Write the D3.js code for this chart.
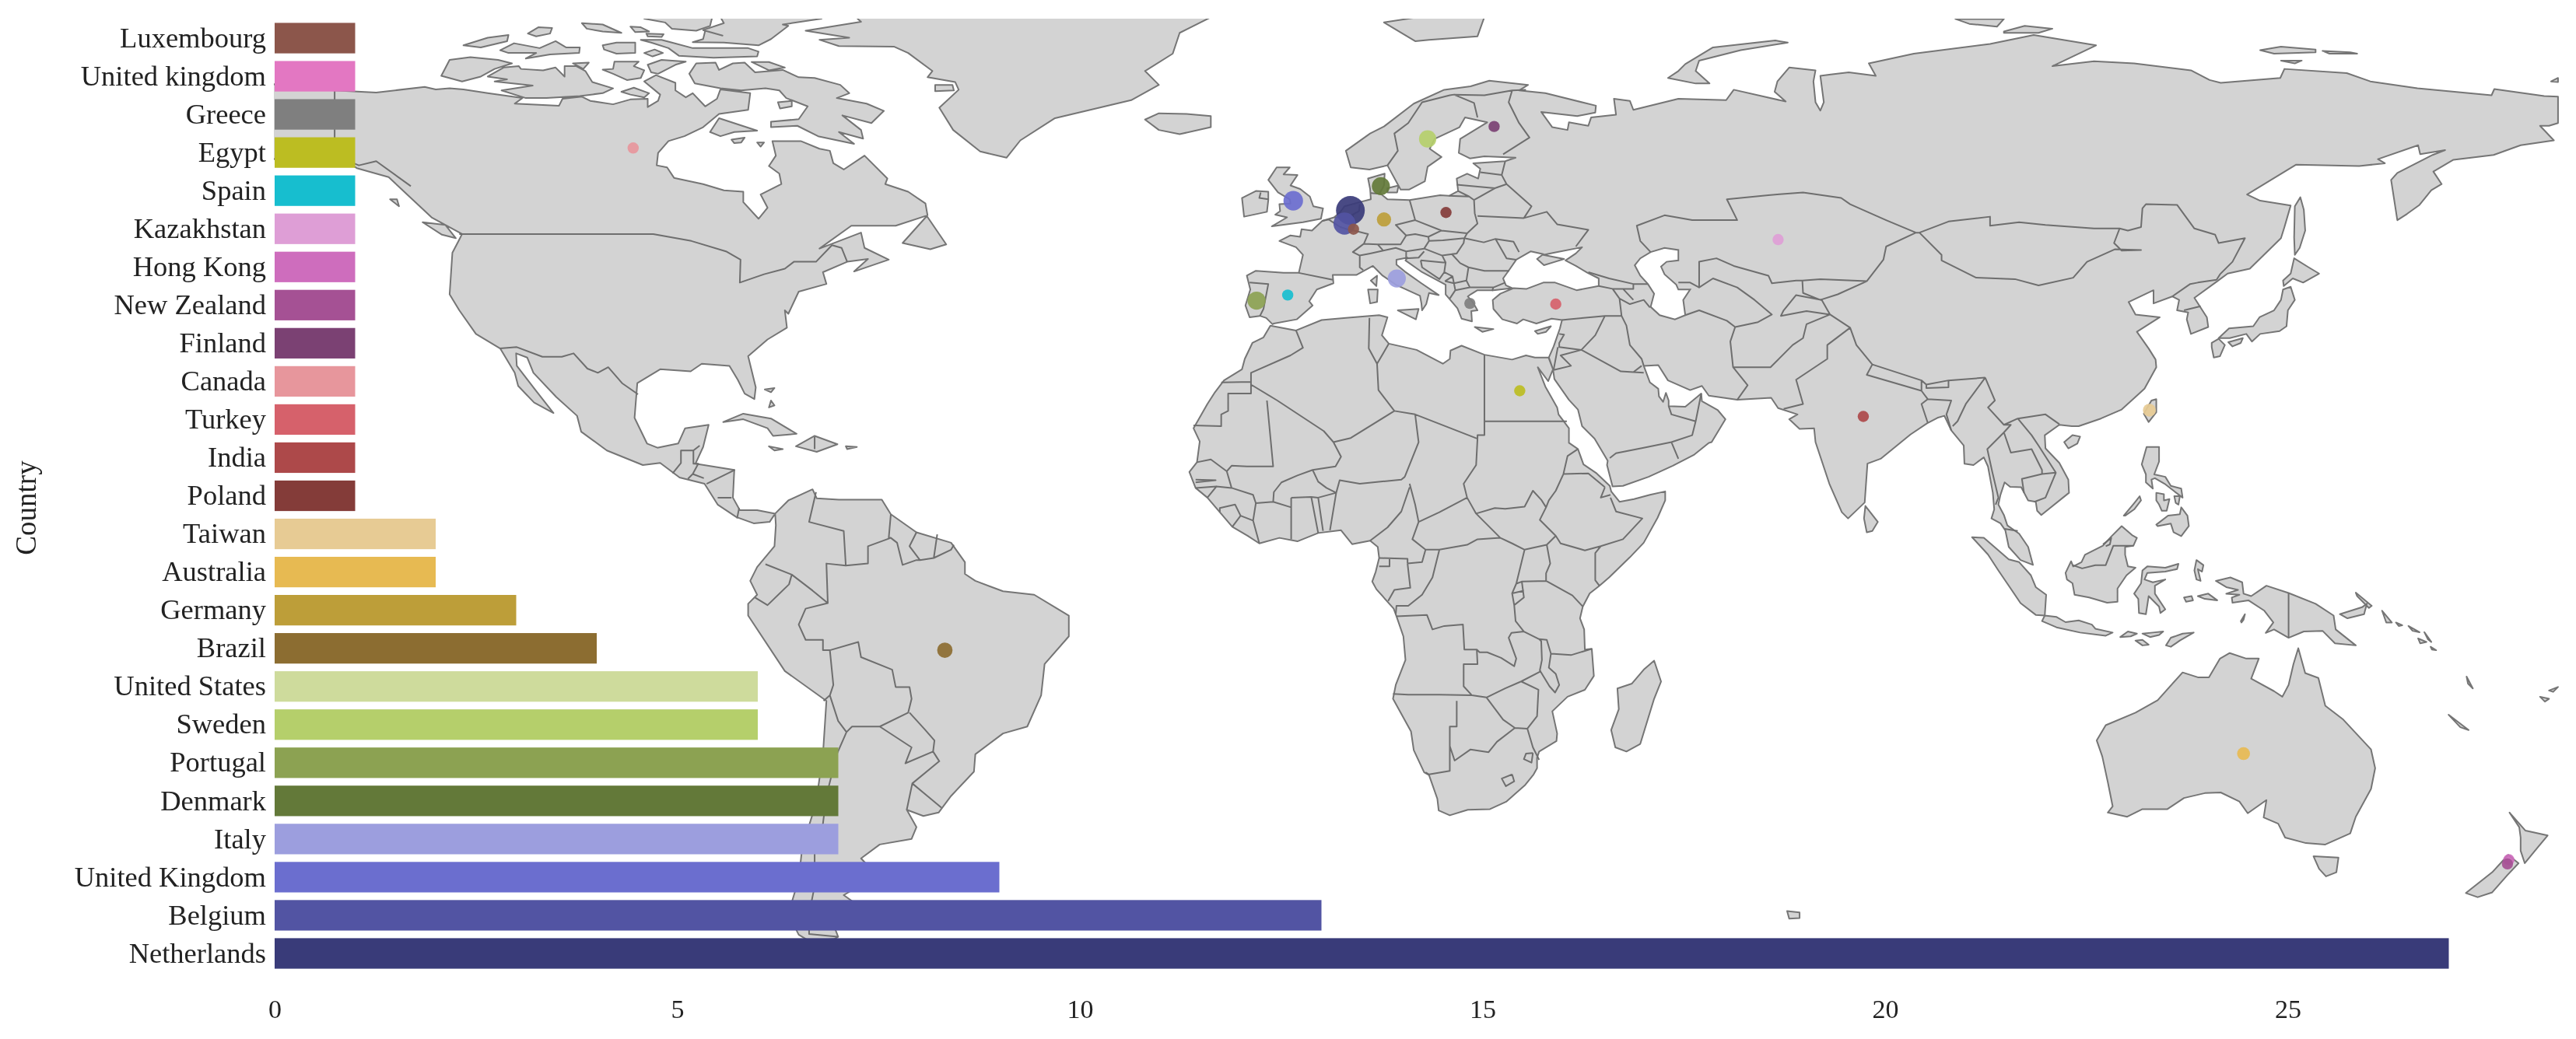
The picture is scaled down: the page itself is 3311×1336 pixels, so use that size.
<!DOCTYPE html>
<html>
<head>
<meta charset="utf-8">
<script src="https://cdn.jsdelivr.net/npm/d3@7"></script>
<style>
  body { margin: 0; background: #fff; }
  svg { display: block; filter: blur(0.5px); }
</style>
</head>
<body>
<div id="vis"></div>
<script>
// bar chart values, top to bottom
const countries = ['Luxembourg','United kingdom','Greece','Egypt','Spain','Kazakhstan','Hong Kong','New Zealand','Finland','Canada','Turkey','India','Poland','Taiwan','Australia','Germany','Brazil','United States','Sweden','Portugal','Denmark','Italy','United Kingdom','Belgium','Netherlands'];
const counts = [1,1,1,1,1,1,1,1,1,1,1,1,1,2,2,3,4,6,6,7,7,7,9,13,27];
const colours = ['#8c564b','#e377c2','#7f7f7f','#bcbd22','#17becf','#de9ed6','#ce6dbd','#a55194','#7b4173','#e7969c','#d6616b','#ad494a','#843c39','#e7cb94','#e7ba52','#bd9e39','#8c6d31','#cedb9c','#b5cf6b','#8ca252','#637939','#9c9ede','#6b6ecf','#5254a3','#393b79'];
const xTicks = [0,5,10,15,20,25];

// where each country's bubble sits, [lon, lat]. none shows for the US or the lower case UK
const bubbleLon = [6.1,null,22.9,30.1,-3.4,67.4,172.9,172.7,26.4,-97.9,35.3,79.7,19.45,121,134.6,10.5,-52.9,null,16.8,-7.9,10.05,12.35,-2.6,4.8,5.65];
const bubbleLat = [49.7,null,39,26.4,40.2,48.2,-41.2,-41.8,64.5,61.4,38.9,22.7,52.1,23.6,-25.9,51.1,-11,null,62.7,39.4,55.9,42.6,53.8,50.5,52.4];

// base map, rough outlines in lon/lat
const africa = [[-5.9,35.8],[-2.2,35.1],[1.5,36.6],[5,36.9],[9.8,37.3],[11,37],[10.2,34.4],[11.2,33.2],[15.2,32.3],[19,30.3],[20,31],[20.1,32.2],[21.7,32.9],[25,31.6],[29,30.9],[31,31.5],[32.3,31.2],[34.25,31.2],[34.9,29.5],[34.2,27.8],[32.7,29.8],[33.8,27],[35.5,24],[35.7,23],[37.2,21],[37.2,18.9],[38.5,18],[39.3,15.8],[41.2,14.5],[43.1,12.7],[43.3,11.9],[44.5,10.4],[46.6,10.8],[48.9,11.4],[51.1,11.9],[51.1,10.6],[50,8.1],[48,4.5],[46,2.4],[43,-0.5],[41.6,-1.7],[40.2,-2.8],[39.2,-4.7],[38.8,-6.4],[39.4,-8],[39.5,-10.9],[40.5,-10.8],[40.8,-14.7],[39.5,-16.7],[37,-17.7],[34.8,-19.8],[35.5,-23],[35.4,-24.1],[32.9,-25.6],[32.6,-26.5],[32.6,-28],[32.1,-28.9],[30.9,-30.4],[28.2,-32.8],[25.8,-33.9],[22.6,-34],[20,-34.8],[18.4,-34.1],[18.2,-32.4],[17,-29],[16.3,-28.6],[14.8,-25.4],[14.4,-22.7],[11.8,-18],[12.2,-16],[13.6,-12.4],[13.3,-9],[12.3,-6.1],[11.9,-5],[9.4,-2.2],[8.8,-1.1],[9.3,0.3],[9.8,2.3],[9.6,3.9],[8.5,4.8],[5.9,4.3],[4.3,6.3],[1,5.9],[-2,4.7],[-4.6,5.2],[-7.5,4.4],[-9.2,5.5],[-11.4,6.8],[-13.2,8.9],[-15,11],[-16.7,12.4],[-17.6,14.7],[-16.5,16.1],[-16.1,19.1],[-17,21],[-15,24.5],[-13.9,26.2],[-12.6,27.9],[-10,29.5],[-9.6,31],[-8.5,33.3],[-6.9,34.1],[-5.9,35.8]];
const eurasia = [[-5.6,36],[-6.5,36.9],[-7.4,37.2],[-8.9,37],[-9.5,38.7],[-8.8,41],[-9.3,43],[-8,43.7],[-4,43.4],[-1.8,43.4],[-1.2,46],[-2.2,47.1],[-4.6,48],[-3,48.8],[-1.6,48.6],[-1.4,49.7],[0.1,49.5],[1.6,50.9],[3.3,51.4],[4.2,52.2],[4.8,53],[7,53.6],[8.6,54],[8.5,55.5],[8.2,57],[10.6,57.7],[10.5,56],[9.9,54.9],[11,54],[14.2,53.9],[18.6,54.6],[19.9,54.5],[21.2,55.2],[21,57],[22.5,57.7],[24.1,57],[24.4,58.4],[23.4,59.2],[28,59.5],[29.5,60],[25,60.2],[22.9,59.9],[21.3,60.7],[21.5,62.7],[25.4,65.1],[22.2,65.8],[21.4,64.4],[17.8,62.7],[17.1,61.3],[18.8,60.1],[16.8,58.7],[16.4,56.6],[14.1,55.4],[12.9,55.4],[11,58.9],[8.4,58.3],[5.7,58.6],[5,61],[8.5,63.5],[10.5,64.5],[14.8,67.8],[19.2,69.8],[23,70.3],[25.7,71.1],[31.3,70.5],[30,69.7],[33.8,69.3],[41.1,67.5],[41,66.5],[38.4,66],[33.2,66.6],[34.8,64.4],[37,64],[37.2,65.1],[40,64.6],[40.4,65.8],[44,66.2],[43.7,68.5],[46,68.2],[46.5,66.9],[53,68.5],[59.9,68.3],[61,69.8],[68.5,68.1],[66.9,69.5],[67.3,71],[69,73],[72.8,72.6],[72.5,71],[72.8,68],[73.5,66.8],[74,68],[73.5,71.8],[75,72],[77.6,72.3],[81.5,71.8],[80.5,73.6],[87,75],[98,76.4],[104.3,77.7],[113.3,76.2],[107,73.2],[113,73.9],[118.8,73.6],[127,72.6],[129.7,71.2],[131.3,70.8],[139.9,71.5],[140.5,72.8],[149.5,72.2],[152.9,71],[159.7,70],[170.4,69],[170.8,69.9],[178,68.9],[180,68.8],[180,65],[178.7,64.6],[177.4,64.6],[179.4,62.5],[174.6,61.8],[170.7,60.4],[164.9,59.7],[162,58],[163.2,56.2],[161.7,55.3],[160,53.2],[158.2,51.9],[156.8,51],[155.9,56.8],[156.8,57.8],[161.9,60.4],[163.7,61.1],[160.1,60.5],[159.8,61.8],[154,59.8],[155,59.2],[151.3,58.8],[142.2,59],[135.1,54.7],[137,53.8],[141.4,53.1],[140.5,50],[140,48.4],[135.5,44],[132.3,43.3],[130.8,42.2],[127.5,39.8],[129.3,37],[129.5,35.6],[127,34.6],[126.4,36.7],[126.6,37.7],[125,38],[125.3,39.5],[124.3,40],[121.6,39],[121.6,40.9],[118,39.2],[119,37.4],[122.5,37],[119.2,34.9],[120.9,32.5],[121.9,30.9],[122,29.8],[120.3,26.7],[117,23.7],[114,22.4],[110.8,21.3],[109.8,21.3],[108,21.5],[105.9,20],[106,18.1],[108,16],[109.3,13.6],[109.4,11.7],[105.4,8.5],[104.8,9.1],[104.6,10.4],[103.5,10.6],[102.5,12.5],[100.9,12.55],[100.1,13.2],[99.5,11.4],[99.2,10],[100,8.5],[100.5,7],[102.2,5.8],[103.5,3.9],[104.2,1.3],[102.4,2],[100.7,3.9],[100.2,6.3],[99.5,7.3],[98.2,8],[98.6,9.3],[98.4,11.7],[97.7,15.5],[97.1,16.8],[95.6,15.7],[94.3,15.9],[94.2,18.5],[92.4,20.7],[91.4,22.8],[90.4,22.5],[88.9,21.7],[86.5,20.1],[82.2,16.6],[80.3,15.9],[79.9,10.3],[77.5,8],[76.6,8.9],[74.8,13],[72.8,19],[72.6,21],[70.5,20.9],[69,22.3],[70.2,23],[67.4,23.9],[66.4,25.4],[61.5,25.1],[57.4,25.7],[56.4,27.1],[54.7,26.5],[51.5,27.9],[50.1,30.1],[48,30],[48.9,27.6],[50.1,26.7],[50.2,25.6],[50.8,24.8],[51.2,26.1],[51.6,25],[51.6,24.2],[54,24.1],[56.3,26],[56.4,24.9],[58.7,23.6],[59.8,22.3],[57.8,19],[57.4,18.9],[55.3,17.2],[52.2,15.6],[48.7,14],[45,12.7],[43.5,12.6],[42.7,15.7],[42.8,16.3],[40.9,19.5],[39.1,21.3],[38.5,23.7],[37.2,25.1],[35.1,28.1],[34.9,29.5],[34.3,31.2],[35,32.8],[35.9,35.4],[36.2,36.6],[34.7,36.8],[32.5,36.1],[30.6,36.7],[29.7,36.1],[27.6,36.7],[26.3,38.2],[26.2,39.5],[27.3,40.4],[29.2,41.2],[31.1,41.1],[33.5,42],[35.2,42],[38.3,40.9],[41.5,41.5],[41.5,42.6],[39.9,43.4],[38.2,44.4],[36.7,45.2],[38.2,46.2],[39.1,47.1],[35,46.3],[33.5,46],[36.5,45.4],[35.2,45],[33.6,44.5],[32.6,45.4],[33.5,46.1],[31.7,46.5],[29.6,45.3],[28.7,44],[27.7,42.6],[28.1,41.6],[29,41.2],[26.3,40.9],[24,40.9],[23,40.3],[22.6,40],[23.3,39.2],[24,38],[23.1,37.9],[23.2,36.4],[21.7,36.8],[21.1,38.3],[19.4,40.3],[19.4,41.7],[16,43.5],[13.6,45.2],[13.9,45.6],[12.3,45.3],[12.3,44.6],[13.5,43.6],[15.9,41.9],[18.4,40.2],[17,40.5],[16.6,38.9],[16,38],[15.9,39],[15.7,40.1],[12.2,41.7],[10.3,43],[8.9,44.4],[6.5,43.1],[3.1,43.1],[3.2,41.9],[0.8,41],[-0.3,39.3],[0.2,38.7],[-2.1,36.7],[-5.4,36.1]];
const northAmerica = [[-168,65.6],[-162,66.5],[-166,68.3],[-156.6,71.3],[-148,70.4],[-141,69.7],[-135,69.4],[-128,70.2],[-126.4,69.85],[-124.4,70],[-122.4,69.85],[-118.9,69.3],[-113.9,68.6],[-115,67.8],[-108.6,67.5],[-108.1,68.5],[-105.3,68.8],[-104.1,68.2],[-100.8,67.7],[-98.3,68.4],[-95.8,68.5],[-95.8,67.3],[-94.3,68.2],[-94,69.1],[-96.3,71],[-94.6,71.9],[-91.8,70.8],[-91.8,69.7],[-90.3,68.7],[-89.3,69.3],[-87.5,67.4],[-85.8,68.5],[-85.3,69.85],[-81,69.3],[-81.3,66.9],[-85.5,66.3],[-87.8,64.4],[-90.5,63.1],[-92.8,62.4],[-94.3,60.7],[-94.5,58.9],[-93,58.6],[-92,57.1],[-87.8,56.2],[-84.8,55.3],[-82,55.1],[-82,53.6],[-79.8,51.2],[-78.5,52.8],[-79.5,54.7],[-76.5,56.2],[-76.8,57.7],[-78.3,58.8],[-77.3,60.3],[-77.8,62.4],[-73.7,62.4],[-71,61.3],[-69.5,61],[-69,59.2],[-67.5,58.3],[-64.5,60.3],[-61.2,57],[-61.5,56.2],[-58.2,55.1],[-55.7,53.4],[-55.4,51.7],[-60,50.2],[-66.4,50.2],[-71,46.9],[-65,49.2],[-64.5,47],[-61,45.3],[-66,43.6],[-64,45.4],[-67,45],[-70.5,43.5],[-70,41.8],[-74,40.7],[-75.5,37.5],[-76,38],[-75.7,35.5],[-78.5,33.8],[-81.3,31.4],[-80.2,26.9],[-80.4,25.2],[-81.8,26],[-82.8,28],[-84,30],[-88,30.3],[-89.6,29.2],[-94,29.5],[-97.3,27.5],[-97.7,22.5],[-95.9,18.8],[-94.4,18.2],[-91.4,18.8],[-90.4,21],[-87,21.5],[-87.8,18.3],[-88.9,15.9],[-83.3,15],[-83.5,11],[-82.5,9.2],[-80,9.2],[-77.4,8.7],[-78.2,7.5],[-80.5,7.3],[-83,8.2],[-85.7,10],[-87.6,13],[-91.2,13.9],[-94,16],[-96.5,15.7],[-101.7,17.8],[-105.4,20.5],[-106,22.8],[-109,25.5],[-112.3,29],[-113.2,31.2],[-114.8,31.8],[-114.7,30],[-112,26.5],[-109.4,23.2],[-112.2,24.7],[-114.5,27.1],[-115,29],[-117.1,32.5],[-120.6,34.6],[-123,38],[-124.4,40.3],[-124,46.3],[-123,48.2],[-122.6,49],[-127,51.4],[-130,54.2],[-133.2,57.2],[-137.8,58.5],[-140,59.9],[-146,60.8],[-152,59.2],[-151.7,60.7],[-154,58],[-160,55.5],[-164.5,54.6],[-158,58.6],[-162,59.9],[-165.5,62],[-161,64],[-168,65.6]];
const southAmerica = [[-77.4,8.7],[-75.5,10.6],[-72,12.2],[-71.4,10.9],[-68.2,10.7],[-62,10.7],[-60.7,8.6],[-57,6],[-52,4.5],[-50,1.7],[-50,0],[-48.5,-1],[-44.5,-2.5],[-40,-3],[-37,-4.8],[-35,-6],[-35,-9],[-38.5,-13],[-39,-17.5],[-41,-22],[-44.5,-23],[-48.5,-26],[-48.7,-28.5],[-52,-32],[-53.8,-34.4],[-56,-34.9],[-58.4,-34],[-57,-36.5],[-57.7,-38.2],[-62.3,-39],[-65,-41],[-63.5,-42.6],[-65.3,-45],[-67.5,-46.3],[-65.8,-47.5],[-69,-50.5],[-68.3,-52.3],[-71,-53.8],[-74,-52],[-75.5,-49],[-74,-44],[-73.5,-39.5],[-71.5,-33],[-70.5,-26],[-70,-18.3],[-76,-14],[-81.3,-6],[-81.3,-4.3],[-80,-3],[-81,-1],[-80,1],[-77.5,4],[-77.3,7],[-77.4,8.7]];
const australia = [[113.4,-24],[114.2,-26.3],[115,-30],[115.7,-33.5],[115,-34.4],[117.8,-35],[120,-33.9],[123.6,-33.9],[126,-32.3],[129,-31.6],[131.3,-31.5],[134,-32.8],[135.2,-34.5],[137.9,-32.6],[137.5,-35.1],[139.6,-36],[140.6,-38],[143.6,-38.8],[146.4,-39],[150,-37.4],[150.8,-35],[153,-31],[153.6,-28],[153,-25.3],[149,-21],[146.4,-19],[145.4,-15],[143.5,-14.3],[142.5,-10.7],[141.8,-13],[141.1,-16],[140.2,-17.7],[139,-16.9],[135.7,-15.1],[136.8,-12.2],[135,-12.2],[132.6,-11.4],[131.2,-12.2],[129.6,-14.9],[128,-14.9],[125.8,-14.2],[122.2,-18.2],[119,-20],[114.7,-21.8],[113.4,-24]];
const arcticIslands = [
  [[-122.4,76.2],[-118.9,77.3],[-115.9,77.7],[-116.1,76.8],[-119.9,75.9]],
  [[-113.1,77.9],[-111.6,78.8],[-109.6,78.7],[-109.9,77.9],[-111.9,77.5]],
  [[-117.1,75.5],[-115.1,76.5],[-111.4,75.8],[-109.1,76.8],[-107.6,75.9],[-105.6,75.9],[-105.7,75.1],[-109.9,74.9],[-113.4,74.3],[-111.9,75.1],[-115.9,75.1]],
  [[-105.3,79.4],[-102.3,79.2],[-99.6,78],[-102.3,78.2],[-104.6,78.6]],
  [[-98.3,78.9],[-96.8,78.8],[-95.6,78.2],[-97.6,78.1]],
  [[-96,77.9],[-93.5,77.8],[-93.8,77.4],[-95.8,77.5]],
  [[-102.3,76.2],[-100.3,76.6],[-97.6,76.6],[-97.6,75.1],[-100.3,75],[-102.1,75.6]],
  [[-96.3,75.1],[-94.8,75.6],[-93.6,75.1],[-95.1,74.6]],
  [[-96.8,77],[-93.8,77],[-92.3,76.6],[-89.3,75.8],[-81.3,75.8],[-79.8,75.3],[-80,74.6],[-86.3,74.4],[-91.3,74.7],[-92.8,75.8],[-95.3,76.6]],
  [[-96.3,81],[-96.3,80.05],[-93.3,79.5],[-92.3,78.6],[-88.8,78.3],[-86.8,79],[-86.3,81]],
  [[-70.7,82],[-70.7,80.05],[-76.3,79.2],[-75.5,79],[-78,77.1],[-79.8,76.2],[-84.8,76.6],[-89.3,76.65],[-87.8,77.1],[-87.5,78.3],[-85,77.6],[-87.8,78.4],[-84.8,79.4],[-86.3,82]],
  [[-118.9,71.7],[-116.6,73],[-114.4,73.2],[-114.1,72.8],[-110.9,72.6],[-109.1,73],[-107.8,71.7],[-107.8,73.2],[-106.1,73.2],[-104.8,72.5],[-103.8,70.9],[-100.8,70],[-102.3,69.3],[-105.6,68.9],[-110.4,68.6],[-113.4,68.6],[-116.9,69.7],[-112.4,70.4],[-117.9,71],[-116.1,71.3]],
  [[-125.6,71.8],[-124.4,74.1],[-121.4,74.5],[-117.4,74.1],[-115.4,73.6],[-117.9,72.8],[-119.9,71.7],[-122.6,71]],
  [[-102.3,72.7],[-100.8,72.8],[-100.6,73.85],[-97.1,73.85],[-97.8,73.2],[-96.3,72.6],[-96.8,71.5],[-98.8,71.2],[-100.8,72.1]],
  [[-95.8,73.4],[-93.8,74.1],[-90.3,73.85],[-91.8,73.4],[-94.3,72.1],[-95.3,72.3]],
  [[-106.6,73.6],[-104.3,73.7],[-105.1,72.8]],
  [[-99.6,69.5],[-97.8,70.1],[-95.6,69.3],[-96.3,68.7],[-98.3,69.1]],
  [[-89.8,72.1],[-88.8,73.6],[-86,73.7],[-85.5,72.65],[-83.5,73.6],[-81.8,73.7],[-80.3,72.3],[-76.3,72.65],[-74,71.6],[-71.7,71.5],[-68,70.5],[-66.7,69.3],[-68.5,68.6],[-64.2,67.8],[-61.7,66.75],[-63.5,65],[-67.7,66.1],[-65,64],[-64.7,62.75],[-68.2,63.7],[-66,62],[-71.2,63.1],[-74.2,64.6],[-78,64.4],[-78,65.2],[-74,65.55],[-72.7,67.4],[-75.8,68.6],[-76.8,69.7],[-78.8,70],[-82.3,69.7],[-85.3,70],[-89,70.7]],
  [[-80.8,73.8],[-78.3,73.8],[-76,73],[-78.3,72.6]],
  [[-77,68],[-75,68.2],[-75,67.4],[-76.7,67.1]],
  [[-85.5,65.7],[-80,63.9],[-83.3,63.7],[-85.3,63.1],[-86.8,63.7]],
  [[-83.7,62.6],[-81.8,62.9],[-82.3,62.2],[-83.3,62.1]],
  [[-80,62.2],[-79,62.2],[-79.5,61.6]],
  [[-59,47.7],[-55,46.8],[-52.7,47.5],[-55.5,51.6]],
  [[-128.3,50.7],[-125,50.3],[-123.5,48.4],[-125.5,48.9]],
  [[-133,54],[-131.7,53],[-132,54]],
  [[-43,83],[-65.5,83],[-65.5,80.05],[-65,79.6],[-73,78.3],[-66.7,77.3],[-71,77],[-68.2,76.1],[-60.2,76],[-58.2,75.1],[-54.7,72.5],[-55.4,71.6],[-51.4,70.9],[-50.9,69.8],[-53.7,67.2],[-51.7,64],[-47.8,60.9],[-44,60],[-42,62.5],[-37,65.7],[-26,68.3],[-22,70.5],[-24,72.5],[-20,75],[-19,78],[-12,81.5],[-30,83.5]],
  [[-54.3,70.5],[-51.8,70.5],[-51.6,69.7],[-54.3,69.6]]
];
const asianIslands = [
  [[95.4,5.3],[97.1,5.2],[100.7,2.1],[102.2,1.7],[103.9,-0.2],[104.6,-1.9],[106.1,-3],[105.9,-6],[104.6,-5.9],[102.4,-4.2],[100.5,-1.4],[99.2,0.5],[97.7,2.8]],
  [[105.5,-6.8],[105.9,-6],[107.6,-6.2],[108.9,-6.95],[110.8,-6.7],[112.7,-7.3],[113.2,-7.9],[115.7,-8.45],[114.7,-8.9],[111,-8.45],[107.6,-7.7]],
  [[116.8,-9.1],[117.9,-8.3],[119.2,-8.6],[118.3,-9]],
  [[120,-8.6],[121.5,-8.45],[123,-8.3],[122.4,-8.8],[121.1,-9.1]],
  [[119,-9.6],[120,-9.5],[120.9,-10.2],[120,-10.3]],
  [[123.4,-10.3],[124.1,-9.2],[125.8,-8.6],[127.4,-8.45],[125.4,-9.6],[124.1,-10.5]],
  [[108.9,0.15],[109.7,1.83],[110,1.08],[111.2,1.7],[111.7,2.76],[114.3,4.07],[115.5,5.4],[117,6.9],[118.5,5.6],[119.2,5.2],[118.7,4.07],[117.5,3.9],[117.5,2.76],[117.9,1.1],[119,0.9],[117.7,-0.2],[116.4,-2.1],[116.4,-4],[114.9,-4.15],[112.3,-3.4],[110.2,-3],[109.9,-1.35],[109.1,-0.8]],
  [[120,0.5],[120.7,1.08],[123.3,0.9],[125.2,1.45],[125,0.7],[123.3,0.33],[120.7,0.15],[120.3,-0.8],[121.5,-1.2],[123.3,-0.8],[121.8,-1.7],[121.8,-2.84],[123.3,-5.1],[122.6,-5.64],[122.4,-4.7],[120.9,-3.2],[120.5,-5.8],[119.5,-5.64],[119.4,-3.6],[118.8,-2.84],[119.8,-1.35]],
  [[127.5,0.5],[127.8,2],[128.8,1.27],[128.6,0.33],[128,0.7],[128.4,-1],[127.8,-0.8]],
  [[126,-3.4],[127.1,-3.2],[127.3,-3.8],[126.3,-4]],
  [[128,-3.2],[129.5,-2.84],[130.8,-3.8],[129,-3.6]],
  [[130.6,-1],[132.7,-0.5],[134.4,-1.2],[134.6,-2.85],[135.7,-3.2],[137.9,-1.7],[141.1,-2.75],[145,-4.3],[147.6,-6],[147.9,-8],[150.8,-10.3],[147.8,-10],[146,-8.2],[143.3,-8.3],[141.1,-9.2],[139,-8],[137.8,-8.5],[138.9,-7],[137.6,-5.3],[135.3,-3.8],[133,-4.15],[132.9,-3.4],[134,-3],[132.1,-2.85],[133.8,-2.3],[132.1,-1.9]],
  [[134.2,-6.8],[134.8,-5.8],[134.6,-6.6],[134.3,-7]],
  [[120.6,18.3],[122.4,18.3],[122.4,16.2],[121.7,14.35],[123.3,14],[124.1,12.7],[125.6,12.3],[125.8,11],[124.1,12.3],[123.2,13],[121.8,13.8],[121.3,13.6],[121.5,12.3],[120.5,13.2],[120.5,14.35],[119.9,15.8]],
  [[122,11.7],[123.1,11.5],[123.1,10.6],[123.9,10.8],[123.5,9.1],[122.8,9.1],[122.4,10],[122,10.6]],
  [[124.6,11.2],[125.4,11.2],[125.2,10],[124.8,10.25]],
  [[122,7.1],[123.7,8.4],[125.4,8.6],[125.6,9.6],[126.5,8.4],[126.7,6.9],[125.6,5.45],[124.5,6],[124.1,7.25],[122.2,6.9]],
  [[117.3,8.4],[118.8,10.2],[119.6,11.2],[119.8,10.6],[118.8,9.3],[117.5,8.4]],
  [[121.3,25],[122,25.2],[122,23.3],[120.9,21.9],[120.2,23.1]],
  [[108.7,19],[109.9,20],[111,19.8],[110.6,18.8],[109.3,18.1]],
  [[142.8,54.3],[143.3,52.5],[143.5,49.5],[142.7,47],[142,46],[141.9,48.5],[142,53]],
  [[140.4,41.5],[141.7,42.6],[143.2,42],[145.5,43.3],[144,44.2],[141.9,45.5],[141.4,43.3],[140.3,42.3]],
  [[141.4,41.4],[142,39.5],[141,38],[140.8,35.7],[139.8,35],[137,34.6],[135.8,33.5],[135,34.6],[132.6,34],[131,34],[132.5,35.4],[136,35.7],[136.9,37],[139,38],[140,39.5],[140.3,41]],
  [[132.4,33.4],[134.5,34],[134.2,33.3],[133,32.8]],
  [[130,33.3],[131,33.9],[131.9,33],[131.2,31.4],[130.3,31.2],[130,32.7]],
  [[80,9.8],[81.8,7.5],[81,6.2],[80.2,6],[79.8,8]],
  [[51.5,71.5],[55.5,70.7],[57.5,70.7],[55.5,72.5],[56,74],[62,75.5],[68.8,76.6],[67,76.9],[58,75.9],[54,73.5],[53,72.5]],
  [[93,80],[100,80],[99,78.9],[95,79.3]],
  [[100,78.2],[103,79],[107,78.6],[105,78],[100,78]],
  [[137,75.5],[140,76],[145,75.6],[145,75.2],[139,75]],
  [[146,75.4],[150,75.2],[151,75],[147,75]],
  [[140,74],[143,74],[142,73.6]],
  [[179,71],[180,71.5],[180,70.9]]
];
const otherIslands = [
  [[-24,65.5],[-22,64],[-19,63.4],[-14.5,64.4],[-14.5,66],[-18,66.3],[-22,66.4]],
  [[-5.7,50.1],[-1.2,50.7],[1.4,51.2],[1.7,52.7],[0.3,53],[-0.2,54.4],[-1.6,55.5],[-3,56],[-2,57.5],[-4,57.6],[-3.1,58.6],[-5,58.6],[-6.2,56.8],[-4.8,55],[-3.1,54],[-3,53.4],[-4.6,53.3],[-4.5,52.3],[-5.2,51.8],[-3.5,51.4]],
  [[-6.2,53.9],[-6.4,52.2],[-9.7,51.5],[-10,54.2],[-8,55.2],[-6.2,55.1]],
  [[11,55.6],[12.6,56],[12.4,55],[11,55]],
  [[10.5,79.5],[15,76.8],[17,77],[24,77.5],[25,80.3],[15,80.2]],
  [[148.5,-5.8],[151.7,-4.8],[152.4,-4.3],[152,-5.8],[149.6,-6.4]],
  [[150.8,-2.7],[153.1,-4.6],[152.7,-4.9],[151,-3.2]],
  [[154.6,-5.3],[156,-7],[155.2,-7]],
  [[156.6,-7],[157.5,-7.4],[157,-7.5]],
  [[158.4,-7.5],[160,-8.4],[159,-8.2]],
  [[160.7,-8.4],[161.7,-9.8],[161.2,-9.4]],
  [[159.8,-9.3],[161,-9.8],[160.1,-10]],
  [[161.6,-10.5],[162.4,-11],[161.8,-10.9]],
  [[166.8,-14.8],[167.7,-16.5],[167,-15.8]],
  [[164.2,-20.3],[167.1,-22.5],[165.9,-22.1]],
  [[177.4,-17.7],[178.7,-18],[178.1,-18.4]],
  [[178.7,-16.8],[180,-16.3],[179.3,-17]],
  [[144.7,-40.7],[148.3,-40.9],[148,-43],[146.5,-43.6],[145.5,-42.5]],
  [[172.8,-40.5],[174.3,-41.7],[172.7,-43.4],[170.5,-45.9],[168.4,-46.6],[166.7,-46],[170.5,-43]],
  [[173,-34.4],[175.3,-37],[178.5,-37.7],[177,-39.5],[175.2,-41.7],[174.6,-39.9],[174.6,-38],[174.4,-36.5]],
  [[-84.9,21.9],[-82,23.1],[-78,22.4],[-74.3,20.2],[-77.7,19.9],[-78.5,21],[-82,22.3]],
  [[-74.4,18.4],[-71.7,19.9],[-68.4,18.7],[-71.4,17.6]],
  [[-78.3,18.4],[-76.3,18],[-77.5,17.8]],
  [[-67.2,18.4],[-65.6,18.3],[-67,18]],
  [[-78.9,26.6],[-77.5,26.8],[-78,26.2]],
  [[-78,25],[-77.5,24.3],[-78.3,24]],
  [[12.5,38],[15.5,38.2],[15.1,36.7]],
  [[8.2,41],[9.6,41],[9.5,39.2],[8.5,39]],
  [[8.6,42.3],[9.5,43],[9.4,41.5]],
  [[23.6,35.6],[26.3,35.3],[24.7,34.9]],
  [[32.3,35],[34.6,35.7],[33.9,34.9],[32.7,34.6]],
  [[49.5,-12.5],[50.5,-15.5],[49.5,-18],[47.5,-24.5],[45.5,-25.6],[43.9,-25],[43.3,-22.5],[44.4,-19.5],[44.2,-16.5],[46.3,-15.8],[48,-13.8]],
  [[-68.6,-52.6],[-65,-55],[-71,-55],[-74,-53]],
  [[68.7,-48.6],[70.5,-48.8],[70.5,-49.6],[69,-49.7]]
];
const caspian = [[49,46.4],[51,47],[53,46.7],[53,45.2],[51.3,45],[50.5,44.3],[51,43.2],[52.7,41.7],[53,41],[54.7,41],[53.7,39.5],[54,37.3],[52.5,36.7],[50.3,37.3],[49,38.5],[49.5,40.4],[48.6,41.8],[47.5,43],[46.7,44.5],[47.5,45.5],[49,46.4]];

const africaBorders = [
  [[-2.2,35.1],[-1.2,32.6],[-3,31.5],[-8.7,29],[-8.7,27.3]],[[-13,27.6],[-8.7,27.7]],
  [[-8.7,27.3],[-8.7,26],[-12,26],[-12,23.5],[-13,23],[-13,21.3],[-17,21.4]],
  [[-8.7,27.3],[-4.9,25],[1.8,20.6],[3.2,19]],[[-6.4,25],[-5.5,15.5],[-9.3,15.5],[-11.5,15.6],[-12.2,14.8]],
  [[-16.5,16.1],[-14.5,16.5],[-12.2,14.8],[-11.5,12.4]],[[-16.7,13.6],[-13.8,13.5],[-16.7,13.2]],
  [[-16.7,12.4],[-13.7,12.6],[-15,11]],[[-13.7,12.6],[-11.5,12.4],[-8.4,11.4],[-8,10.2]],
  [[-13.2,8.9],[-13.2,9.5],[-11,10],[-10.2,8.4],[-11.4,6.8]],[[-10.2,8.4],[-8.4,7.7],[-7.5,4.4]],[[-8.4,7.7],[-8,10.2],[-5.5,10.4],[-2.9,9.6]],
  [[-2.9,11],[-2.9,5]],[[-2.9,11],[0,11.1],[1,5.9]],[[0,11.1],[1,11],[1.7,6.2]],[[1,11],[3.6,11.7],[2.7,6.3]],
  [[-5.5,10.4],[-5.4,11.8],[-4.3,13.2],[-2,14.2],[0.2,15],[3.5,15.5],[4.3,16.9],[3.2,19]],[[0.2,15],[1,13.3],[2.2,12.4],[3.6,11.7]],
  [[3.2,19],[5.7,19.6],[12,23.5],[9.7,26.5],[9.5,30.3],[8.3,32.5],[8.4,36.9]],[[9.5,30.3],[11.2,33.2]],
  [[12,23.5],[15,23],[24,19.5],[24,20],[25,20],[25,31.6]],[[25,22],[36.9,22]],
  [[15,23],[15.5,19],[13.5,14]],[[3.6,11.7],[4.1,13.5],[7,13],[13,13.6],[13.5,14]],[[14.2,13],[15,10],[15.5,7.5]],
  [[14.2,12.5],[13,9],[11,6.7],[8.5,4.8]],[[24,19.5],[23.8,15.7],[22,13],[22.5,11]],[[15.5,7.5],[18.5,8.9],[22.5,11],[23.8,8.7],[25,7.5],[27.3,5.2]],
  [[23.8,8.7],[26.5,9.5],[28,9.4],[30.8,9.7],[32,12],[33.2,10.7],[33.9,9.6]],[[33.9,9.6],[34.3,10.6],[35.3,12],[36.4,14.4],[37,17],[38.5,18]],
  [[36.4,14.4],[40,14.5],[42.4,12.5]],[[33.9,9.6],[33,7.8],[35.3,5.5],[34,4.2],[30.8,3.5],[29,4.4],[27.3,5.2]],
  [[43.2,11],[44,9],[47.8,8],[45,5],[41.8,4]],[[42.4,12.5],[41.8,11],[43.2,11.4]],[[35.3,5.5],[36,4.4],[39.5,3.4],[41.8,4],[41,3],[41,-0.9],[41.6,-1.7]],
  [[34,4.2],[34.5,1.5],[33.9,0.1],[33.9,-1],[37.7,-3.1],[39.2,-4.7]],[[30.8,3.5],[29.6,-1.4],[29,-2.8],[29.3,-4.5],[30.7,-3.4],[30.4,-1.1],[33.9,-1]],[[29.6,-1.4],[30.4,-1.1]],[[29,-2.8],[30.7,-2.4]],
  [[27.3,5.2],[24,5],[22.5,4.2],[18.5,3.5],[17.5,-0.5],[16,-3],[14,-4.6],[12.3,-4.6],[12.2,-5.8]],[[12.3,-6.1],[16.7,-5.9],[17.5,-8],[19.2,-7.5],[21.9,-7.3],[22.1,-10.9],[23.9,-10.9],[24.3,-11.3],[25.4,-11.3],[27.4,-12.1],[29.3,-13.3],[29.6,-12.2],[28.5,-9.2],[28.9,-8.5],[30.7,-8.3],[32.9,-9.4]],
  [[29.3,-4.5],[29.5,-6.8],[30.7,-8.3]],[[32.9,-9.4],[34,-9.5],[34.6,-11.5],[34.3,-13.5],[35.3,-14.4],[35.8,-16],[35.2,-17.1],[34.4,-16.2],[33,-13.9],[33.3,-12.4],[33.2,-9.7],[32.9,-9.4]],
  [[34.6,-11.5],[37.5,-11.7],[40.5,-10.8]],[[33.2,-14],[30.3,-15.5],[28,-16.5],[25.3,-17.8]],[[23.9,-10.9],[24,-13],[22,-13],[22,-16.2],[23.2,-17.5],[25.3,-17.8]],
  [[11.8,-17.3],[14,-17.4],[18.5,-17.4],[23.2,-17.5]],[[21,-18.3],[21,-22],[20,-22],[20,-28.4],[17,-28.9],[16.5,-28.6]],
  [[20,-24.8],[20.7,-26.9],[23,-25.3],[25.6,-25.7],[26.8,-24.2],[29.4,-22.2],[27.7,-21],[25.3,-17.8]],[[30.3,-15.5],[32.8,-16.7],[32.6,-20.5],[31.2,-22.3],[29.4,-22.2]],[[31.2,-22.3],[32,-25],[32.9,-26.8]],
  [[32,-25.8],[31,-25.9],[30.7,-26.7],[31.8,-27.2],[32,-25.8]],[[29,-28.9],[27.5,-29.5],[28.1,-30.6],[29.3,-29.9],[29,-28.9]],
  [[9.8,1.1],[11.3,1.1],[11.3,2.2]],[[13.9,1.5],[14.3,-2],[12,-2.3],[11.1,-3.9]],[[13.9,1.5],[16,1.7],[16.5,3.5],[18.5,3.5]],[[15.5,7.5],[14.6,5],[16.5,3.5]],[[9.8,2.3],[13.9,2.2],[13.9,1.5]]
];
const americaBorders = [
  [[-123,49],[-95,49],[-89.5,48],[-84.5,46.5],[-82.4,45.3],[-82.5,42],[-79,43.2],[-76,44],[-74.7,45],[-71.5,45],[-69.2,47.4],[-67.8,47],[-67,45]],
  [[-141,69.7],[-141,60.3],[-137.5,58.9],[-135,59.5],[-130,55.9]],
  [[-117.1,32.5],[-114.7,32.7],[-111,31.3],[-108.2,31.3],[-106.5,31.8],[-104.5,29.6],[-103,29],[-101.5,29.8],[-99.5,27.5],[-97.2,25.9]],
  [[-92.2,14.5],[-91,16],[-91,17.8],[-89.2,17.8],[-88.3,18.5]],[[-89.2,17.8],[-89.2,15.9],[-88.5,15.9],[-89.3,14.4]],[[-90,13.7],[-89.3,14.4],[-87.7,13.8]],[[-87.3,13],[-83.2,15]],[[-85.7,11],[-83.7,11]],[[-82.9,8],[-82.6,9.5]],
  [[-71.7,19.8],[-71.7,18]],
  [[-71.5,11.8],[-72.5,7.5],[-67.5,6.2],[-67.2,1.2],[-70,1.5],[-69.8,-4.2],[-72,-2.4],[-75,-0.1],[-78.8,1.4]],[[-60.7,8.6],[-61,5.2],[-60.7,5.2],[-64,4],[-64,1.5],[-67.2,1.2]],
  [[-60.7,5.2],[-59.8,4.5],[-59,1.3],[-57,2],[-56.5,2],[-54.5,2.3],[-52,3.5],[-51.6,4.2]],[[-57,6],[-58,4],[-56.5,2]],[[-54,5.7],[-54.5,2.3]],
  [[-75,-0.1],[-75.4,-1.5],[-78.5,-4.5],[-80.3,-3.4]],[[-69.8,-4.2],[-73,-5],[-74,-7.3],[-73,-9.5],[-70.5,-9.5],[-70.5,-11],[-69.5,-11],[-69,-16],[-69.5,-17.5],[-70.4,-18.3]],
  [[-69.5,-11],[-65.4,-9.8],[-65,-12],[-60.5,-13.8],[-60,-16.3],[-58,-16.3],[-57.7,-18],[-58.2,-20],[-62.3,-22],[-66.3,-22],[-67.1,-22.8],[-68.3,-21.2],[-69.5,-17.5]],
  [[-67.1,-22.8],[-68.5,-26],[-70,-32],[-70.5,-36],[-71.7,-40],[-71.7,-45],[-72.5,-49],[-72.5,-51.9],[-68.4,-52.3]],
  [[-58,-20],[-55.8,-22.4],[-54.4,-24],[-54.6,-25.6],[-58.6,-27.3],[-57.7,-25],[-62.3,-22]],[[-54.6,-25.6],[-53.7,-27],[-57.6,-30.2],[-58.4,-34]],[[-57.6,-30.2],[-53.4,-33.7]]
];
const europeBorders = [
  [[-8.9,42],[-6.2,41.8],[-6.9,38.2],[-7.4,37.2]],[[-1.8,43.4],[3.1,42.4]],[[1.6,50.9],[2.5,51.1],[4.2,50],[5.8,49.5],[6.2,49.5],[8.2,49],[7.6,47.6],[6,46.4],[7,45.9],[7,44.2],[7.5,43.8]],
  [[3.3,51.4],[5,51.4],[6,51.8],[6.1,50.8],[6.1,50.1],[5.8,49.5]],[[7,53.3],[6.9,52.3],[6,51.8]],[[8.6,54.9],[9.9,54.8]],[[14.2,53.9],[14.7,52.1],[15,51],[12.2,50.3],[13.7,48.8],[12.9,47.5],[9.6,47.5],[7.6,47.6]],
  [[7,45.9],[8.5,46.2],[10.4,46.6],[12.2,47],[13.7,46.5],[13.7,45.6]],[[9.6,47.5],[10.4,46.6]],[[13.7,48.8],[15,49],[16.9,48.6],[17,48],[16.3,46.9],[13.7,46.5]],[[13.6,45.5],[15.5,45.6],[16.3,46.5]],
  [[17,48],[19,48.1],[22.1,48.4],[22,47.7],[21,46.2],[18.9,45.9],[16.3,46.9]],[[15,51],[18.8,49.5],[22.5,49.1],[24,50.5],[23.6,52],[23.5,53.9],[22.8,54.4],[19.9,54.5]],[[16.9,48.6],[18.8,49.5]],[[22.5,49.1],[22.1,48.4]],[[22.8,54.4],[21.2,55.2]],
  [[23.5,53.9],[26.5,55.6],[28.2,56.2],[27.5,57.5],[28,59.5]],[[21,56.1],[26.5,55.6]],[[24.4,57.9],[27.5,57.5]],[[28.2,56.2],[31.8,53],[30.7,51.3],[34,52.2],[35.5,50.4],[40,49.6],[38.2,47.2]],[[24,51.6],[30.7,51.3]],
  [[22.1,48.4],[24.9,47.8],[26.6,48.3],[29.2,47.9],[30,46.4]],[[26.6,48.3],[28.2,45.5],[29.6,45.3]],[[21,46.2],[20.3,46.1],[21.5,44.8],[22.7,44.2],[25,43.7],[28.6,43.7]],[[22.7,44.2],[22.4,42.3],[22.9,41.3],[26.3,41.3],[28,42]],[[26.3,41.3],[26.1,40.8]],
  [[22.9,41.3],[20.8,40.9],[20.6,41.9],[22.4,42.3]],[[19.3,42.2],[20.6,41.9]],[[20.8,40.9],[20,39.7]],[[18.9,45.9],[19.4,44.9],[19.2,43.5],[20.4,42.9],[20.6,41.9]],[[15.8,45.2],[19,44.9],[19.4,44.9]],[[15.8,45.2],[16,44.2],[18.5,42.5],[19.2,43.5]],[[19.3,42.2],[20.4,42.9]],
  [[11,58.9],[12.5,61],[12,63.5],[14,65],[16,68],[20,69],[20.6,69.1],[25,69],[29,69.7],[28.5,68],[30,65],[31.5,62.9],[27.7,60.5]],[[20.6,69.1],[23.5,67.9],[24,65.8]],[[29,69.7],[31,69.8]],
  [[-7.3,55],[-7.5,54.2],[-6.2,54]]
];
const asiaBorders = [
  [[36.2,36.6],[37,36.7],[42.4,37.2],[44.8,37.2],[44.5,39.7],[43.5,41.1],[41.5,41.5]],[[42.4,37.2],[41,34.4],[39,32.3],[35.8,32.7],[35.8,33.3],[36.5,34.5],[35.8,34.6]],[[35.6,32.7],[35,29.5]],[[35,29.4],[37.5,30],[36,31.5],[39,32.3],[44.7,29.2],[46.5,29.1],[48,29]],[[46.5,29.1],[47.7,30]],
  [[44.8,37.2],[45.5,35.8],[46,33],[47.7,31],[48,30]],[[44.5,39.7],[46,38.9],[48,39.5],[48.9,38.4]],[[40,43.5],[43,42.6],[46.5,41.8],[48.6,41.8]],[[43.5,41.1],[46.5,41.1],[46.5,41.8]],[[45,41.1],[46.5,39.5]],
  [[54,37.3],[56,38],[60,36.5],[61.2,35.6],[60.5,33.5],[60.9,29.8],[63,27.2],[61.5,25.1]],[[61.2,35.6],[64.5,36.3],[66.5,37.4],[64,39.5],[61.5,41.3],[58,42.6],[56,41.3],[56,45],[58.5,45.5],[61,44.4],[66,43],[66.5,41.9],[70,42.3],[70.9,42.3]],[[56,41.3],[54.7,42],[53,42]],
  [[70.9,42.3],[73.5,42.5],[80.2,42.2]],[[70.9,42.3],[71,40.5],[73.5,39.5],[76,40.3],[80.2,42.2]],[[68.2,38],[67.8,37.2],[71.5,37.9],[74.9,37.4],[73.7,39.5],[70,40.2],[68.2,38]],
  [[49,46.4],[47.5,48],[47,50.2],[51,51.7],[55,51],[61.5,51],[60,54],[66,54.6],[71,55],[76.5,54.2],[77.8,53.3],[83,51],[87.3,49.2],[83,47.2],[82.6,45.3],[80.2,42.2]],
  [[87.8,49.2],[92,50.8],[98,51.5],[98,50.2],[102.2,50.7],[106,50.3],[113,49.8],[116.7,49.8],[117.9,49.5],[119.8,50],[120,52.7],[120.5,53.3],[125,53.2],[127.5,49.8],[130.5,48.9],[131,47.7],[134.8,48.4],[133,45],[131.2,43.2],[130.7,42.4]],
  [[87.8,49.2],[91,46],[91,45.2],[96,42.7],[101.6,42.5],[105,41.6],[110,42.7],[112,45],[116,46.8],[119.8,46.7],[117,46.6],[115.9,47.7],[116.7,49.8]],[[87.3,49.2],[87.8,49.2]],
  [[124.3,40],[126.9,41.8],[128,42],[130.7,42.4]],[[126,38],[128.4,38.6]],[[74.9,37.4],[77.8,35.5],[78.7,33],[81,30.2],[88.1,27.9],[88.8,27.3],[92,27.9],[97.3,28.3]],[[81,30.2],[80.2,28.7],[88.1,26.4],[88.1,27.9]],[[88.8,27.3],[88.8,26.8],[92,26.9],[92,27.9]],
  [[97.3,28.3],[94.5,24.5],[93.3,22],[92.6,21.3]],[[88.1,26.4],[89,25.2],[92.4,25],[91.7,23],[92.4,20.7]],[[89,25.2],[88.1,24.5],[89,21.8]],[[97.3,28.3],[98.7,25],[97.7,24],[100,21.5],[102,22.4],[106,23],[108,21.6]],[[100,21.5],[101,21.5],[100,20.4],[97.6,18],[98.3,14.8],[99.2,11],[98.8,10]],
  [[100,20.4],[101,17.5],[104,18],[105.5,15],[105.5,14.4],[102.6,13.7],[102.9,11.7]],[[105.5,14.4],[107.5,14.6],[106,11],[104.4,10.4]],[[107.5,14.6],[105,18.5],[104,20],[102,22.4]],[[100.1,6.5],[102,6.2]],
  [[109.9,1.27],[111.3,0.8],[113.2,1.27],[114.7,1.27],[115.8,4.07],[118.7,4.07]],[[114.3,4.26],[115.5,5.2],[115.3,4.26],[114.7,4]],
  [[74.9,37.4],[71.5,36],[71,34],[69.5,33],[66.3,29.8],[60.9,29.8]],[[77.8,35.5],[74.5,33],[74.5,31],[70,28],[71,24.5],[68.2,23.8]],[[56.3,26],[56,24.5],[55.5,22],[52,23],[51.6,24.2]],[[55.5,22],[55,20],[52,19],[53,16.6]],[[52,19],[48,18.2],[44,17.4],[43.1,16.7]],
  [[141.1,-2.75],[141.1,-9.2]]
];

const lands = [africa, eurasia, northAmerica, southAmerica, australia].concat(arcticIslands, asianIslands, otherIslands);
const borders = africaBorders.concat(americaBorders, europeBorders, asiaBorders);

const width = 3311;
const height = 1336;

const svg = d3.select('#vis').append('svg')
  .attr('width', width)
  .attr('height', height)
  .attr('font-family', '"Liberation Serif", serif');

// the map is plain lon/lat, stretched to fit behind the bars
const lonScale = d3.scaleLinear().domain([-180, 180]).range([82.9, 3287.9]);
const latScale = d3.scaleLinear().domain([0, 80]).range([738, 24.4]);
const flat = d3.geoTransform({
  point: function(x, y) { this.stream.point(lonScale(x), latScale(y)); }
});
const path = d3.geoPath(flat);

svg.append('clipPath').attr('id', 'mapclip')
  .append('rect').attr('x', 352).attr('y', 24).attr('width', 2959).attr('height', 1290);

const map = svg.append('g').attr('clip-path', 'url(#mapclip)');

map.append('path')
  .datum({type: 'MultiPolygon', coordinates: lands.map(d => [d.concat([d[0]])])})
  .attr('d', path)
  .attr('fill', '#d3d3d3')
  .attr('stroke', '#757575')
  .attr('stroke-width', 2)
  .attr('stroke-linejoin', 'round');

map.append('path')
  .datum({type: 'MultiLineString', coordinates: borders})
  .attr('d', path)
  .attr('fill', 'none')
  .attr('stroke', '#6e6e6e')
  .attr('stroke-width', 2)
  .attr('stroke-linejoin', 'round');

map.append('path')
  .datum({type: 'Polygon', coordinates: [caspian]})
  .attr('d', path)
  .attr('fill', '#fff')
  .attr('stroke', '#757575')
  .attr('stroke-width', 2);

const y = d3.scaleBand().domain(countries).range([24.5, 1250.5]).paddingInner(0.2).paddingOuter(0.1);
const x = d3.scaleLinear().domain([0, 27]).range([353, 3147.5]);
const radius = d3.scaleSqrt().domain([1, 27]).range([7.2, 18.5]);

const table = countries.map((c, i) => ({country: c, count: counts[i], colour: colours[i], lon: bubbleLon[i], lat: bubbleLat[i]}));

// biggest bubbles first so the small ones stay on top
map.selectAll('.bubble')
  .data(table.filter(d => d.lon !== null).sort((a, b) => b.count - a.count))
  .join('circle')
    .attr('class', 'bubble')
    .attr('cx', d => lonScale(d.lon))
    .attr('cy', d => latScale(d.lat))
    .attr('r', d => radius(d.count))
    .attr('fill', d => d.colour)
    .attr('fill-opacity', 0.92);

svg.selectAll('.bar')
  .data(table)
  .join('rect')
    .attr('class', 'bar')
    .attr('x', x(0))
    .attr('y', d => y(d.country))
    .attr('width', d => x(d.count) - x(0))
    .attr('height', y.bandwidth())
    .attr('fill', d => d.colour);

const yAxis = svg.append('g')
  .attr('transform', 'translate(352,0)')
  .call(d3.axisLeft(y).tickSize(0).tickPadding(10));
yAxis.select('.domain').remove();
yAxis.selectAll('text').attr('font-size', 36.5).attr('font-family', '"Liberation Serif", serif').attr('fill', '#222');

const xAxis = svg.append('g')
  .attr('transform', 'translate(0,1262)')
  .call(d3.axisBottom(x).tickValues(xTicks).tickSize(0).tickPadding(23));
xAxis.select('.domain').remove();
xAxis.selectAll('text').attr('font-size', 34).attr('font-family', '"Liberation Serif", serif').attr('fill', '#222');

svg.append('text')
  .attr('transform', 'translate(38,653) rotate(-90)')
  .attr('text-anchor', 'middle')
  .attr('dominant-baseline', 'middle')
  .attr('font-size', 37)
  .attr('fill', '#222')
  .text('Country');
</script>
</body>
</html>
